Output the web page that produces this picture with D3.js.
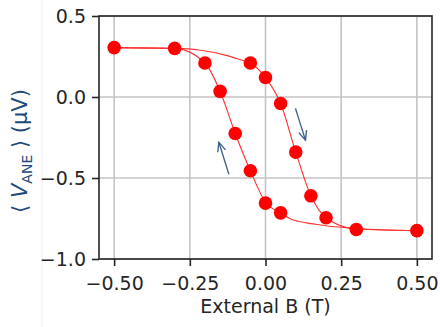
<!DOCTYPE html>
<html>
<head>
<meta charset="utf-8">
<script src="https://cdn.jsdelivr.net/npm/d3@7"></script>
<style>
  body { margin: 0; background: #fff; }
  svg { display: block; font-family: "DejaVu Sans", sans-serif; }
</style>
</head>
<body>
<svg id="chart" width="440" height="327"></svg>
<script>
// measured points (B in T, <V_ANE> in uV)
var fieldB = [-0.5, -0.3, -0.2, -0.15, -0.1, -0.05, -0.05, 0, 0, 0.05, 0.05, 0.1, 0.15, 0.2, 0.3, 0.5];
var vane   = [0.305, 0.30, 0.21, 0.035, -0.225, -0.455, 0.21, 0.12, -0.655, -0.04, -0.715, -0.34, -0.61, -0.745, -0.818, -0.825];

// fitted curves
var fitLeftB  = [-0.5, -0.3, -0.2, -0.15, -0.1, -0.05, 0, 0.05, 0.08, 0.165, 0.3, 0.5];
var fitLeftV  = [0.305, 0.30, 0.21, 0.035, -0.225, -0.455, -0.65, -0.715, -0.75, -0.786, -0.812, -0.825];
var fitRightB = [-0.5, -0.3, -0.22, -0.13, -0.08, -0.05, 0, 0.05, 0.1, 0.15, 0.2, 0.3, 0.5];
var fitRightV = [0.305, 0.30, 0.29, 0.257, 0.228, 0.21, 0.12, -0.04, -0.34, -0.61, -0.745, -0.815, -0.825];

// sweep arrows [fromB, fromV, toB, toV]
var arrowDown = [0.099, -0.07, 0.132, -0.266];
var arrowUp   = [-0.121, -0.477, -0.154, -0.28];

var xTicks = [-0.5, -0.25, 0, 0.25, 0.5];
var yTicks = [-1.0, -0.5, 0.0, 0.5];

var svg = d3.select("#chart");
var plotL = 99, plotR = 432, plotT = 16, plotB = 259;

var x = d3.scaleLinear().domain([-0.55, 0.55]).range([plotL, plotR]);
var y = d3.scaleLinear().domain([-1.0, 0.5]).range([plotB, plotT]);

// faint edge line from the source image
svg.append("line")
   .attr("x1", 42).attr("x2", 42).attr("y1", 0).attr("y2", 327)
   .style("stroke", "#efefef").style("stroke-width", 1);

// grid
svg.append("g").selectAll("line").data(xTicks).enter().append("line")
   .attr("x1", d => x(d)).attr("x2", d => x(d))
   .attr("y1", plotT).attr("y2", plotB)
   .style("stroke", "#c4c4c4").style("stroke-width", 1.6);
svg.append("g").selectAll("line").data(yTicks).enter().append("line")
   .attr("x1", plotL).attr("x2", plotR)
   .attr("y1", d => y(d)).attr("y2", d => y(d))
   .style("stroke", "#c4c4c4").style("stroke-width", 1.6);

// fit lines
var line = d3.line()
   .x(d => x(d[0])).y(d => y(d[1]))
   .curve(d3.curveMonotoneX);

svg.append("path")
   .datum(d3.zip(fitLeftB, fitLeftV))
   .attr("d", line)
   .style("fill", "none").style("stroke", "#ff3030").style("stroke-width", 1.1);
svg.append("path")
   .datum(d3.zip(fitRightB, fitRightV))
   .attr("d", line)
   .style("fill", "none").style("stroke", "#ff3030").style("stroke-width", 1.1);

// markers
svg.append("g").selectAll("circle")
   .data(d3.zip(fieldB, vane))
   .enter().append("circle")
   .attr("cx", d => x(d[0])).attr("cy", d => y(d[1]))
   .attr("r", 6.8)
   .style("fill", "#ff0000");

// arrows
function drawArrow(a) {
  var x1 = x(a[0]), y1 = y(a[1]), x2 = x(a[2]), y2 = y(a[3]);
  var ang = Math.atan2(y2 - y1, x2 - x1);
  var len = 10, spread = 0.42;
  var g = svg.append("g")
     .style("stroke", "#43638c").style("stroke-width", 1.4).style("fill", "none");
  g.append("line").attr("x1", x1).attr("y1", y1).attr("x2", x2).attr("y2", y2);
  g.append("path").attr("d",
     "M" + (x2 - len * Math.cos(ang - spread)) + "," + (y2 - len * Math.sin(ang - spread)) +
     "L" + x2 + "," + y2 +
     "L" + (x2 - len * Math.cos(ang + spread)) + "," + (y2 - len * Math.sin(ang + spread)));
}
drawArrow(arrowDown);
drawArrow(arrowUp);

// axes
var xAxis = d3.axisBottom(x).tickValues(xTicks).tickSize(7).tickPadding(6)
   .tickFormat(d3.format(".2f"));
var yAxis = d3.axisLeft(y).tickValues(yTicks).tickSize(7).tickPadding(6)
   .tickFormat(d3.format(".1f"));

var gx = svg.append("g").attr("transform", "translate(0," + plotB + ")").call(xAxis);
var gy = svg.append("g").attr("transform", "translate(" + plotL + ",0)").call(yAxis);
[gx, gy].forEach(function(g) {
  g.select(".domain").remove();
  g.selectAll(".tick line").style("stroke", "#262626").style("stroke-width", 1.6);
  g.selectAll(".tick text")
   .style("font-family", "DejaVu Sans").style("font-size", "19px").style("fill", "#262626");
});
gx.selectAll(".tick text").attr("dy", "0.95em");

// frame
svg.append("rect")
   .attr("x", plotL).attr("y", plotT)
   .attr("width", plotR - plotL).attr("height", plotB - plotT)
   .style("fill", "none").style("stroke", "#262626").style("stroke-width", 1.6);

// labels
svg.append("text")
   .attr("x", (plotL + plotR) / 2).attr("y", 313)
   .attr("text-anchor", "middle")
   .style("font-size", "19px").style("fill", "#262626")
   .text("External B (T)");

var yl = svg.append("text")
   .attr("transform", "translate(27,151) rotate(-90)")
   .attr("text-anchor", "middle")
   .style("font-size", "21px").style("fill", "#1f4a7a");
yl.append("tspan").text("\u27E8 ");
yl.append("tspan").style("font-style", "italic").text("V");
yl.append("tspan").style("font-size", "14px").attr("dy", 5).text("ANE");
yl.append("tspan").attr("dy", -5).text(" \u27E9 (\u03BCV)");
</script>
</body>
</html>
